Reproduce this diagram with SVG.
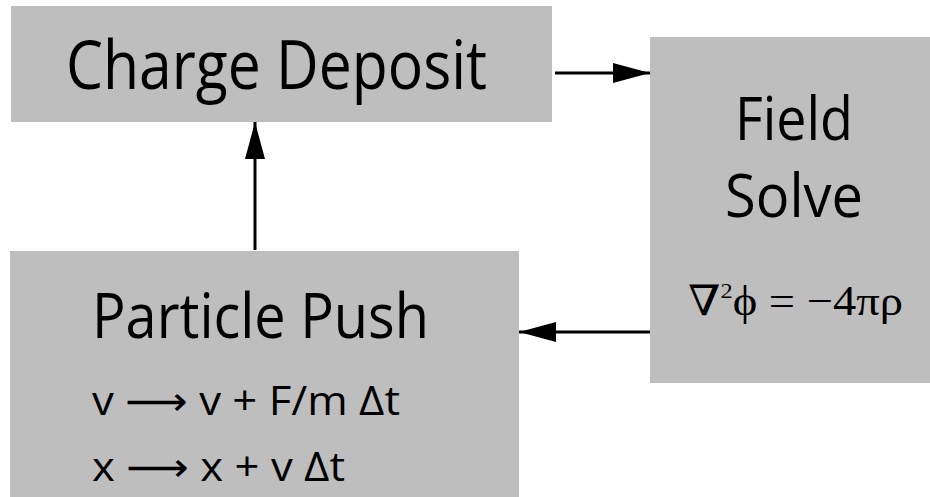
<svg xmlns="http://www.w3.org/2000/svg" width="930" height="497" viewBox="0 0 930 497">
<style>
.box{fill:#bebebe;}
.t{font-family:"Open Sans","Noto Sans",sans-serif;fill:#000;}
.m{font-family:"Liberation Serif","DejaVu Serif",serif;fill:#000;}
.a{font-family:"DejaVu Sans",sans-serif;}
.c{stroke:#000;stroke-width:3;fill:none;}
</style>
<defs>
<marker id="ah" markerUnits="userSpaceOnUse" markerWidth="38" markerHeight="22" refX="37" refY="11" orient="auto">
<path d="M0,1 L37,11 L0,21 Z" fill="#000"/>
</marker>
</defs>
<rect width="930" height="497" fill="#fff"/>
<g id="charge-deposit">
<rect class="box" x="11" y="6" width="541" height="116"/>
<text class="t" x="66" y="89" font-size="68" textLength="421" lengthAdjust="spacingAndGlyphs">Charge Deposit</text>
</g>
<g id="field-solve">
<rect class="box" x="650" y="37" width="280" height="346"/>
<text class="t" x="735" y="140" font-size="60" textLength="118" lengthAdjust="spacingAndGlyphs">Field</text>
<text class="t" x="725" y="217" font-size="60" textLength="138" lengthAdjust="spacingAndGlyphs">Solve</text>
<text class="m" x="688" y="315" font-size="42" textLength="215" lengthAdjust="spacingAndGlyphs">∇<tspan font-size="22" dy="-17">2</tspan><tspan dy="17">ϕ = −4πρ</tspan></text>
</g>
<g id="particle-push">
<rect class="box" x="10" y="251" width="509" height="246"/>
<text class="t" x="92" y="338" font-size="62" textLength="337" lengthAdjust="spacingAndGlyphs">Particle Push</text>
<text class="t" x="92" y="415" font-size="40" textLength="308" lengthAdjust="spacingAndGlyphs">v <tspan class="a">⟶</tspan> v + F/m Δt</text>
<text class="t" x="92" y="481" font-size="40" textLength="253" lengthAdjust="spacingAndGlyphs">x <tspan class="a">⟶</tspan> x + v Δt</text>
</g>
<g id="connectors">
<line class="c" x1="555" y1="73" x2="650" y2="73" marker-end="url(#ah)"/>
<line class="c" x1="650" y1="332" x2="519" y2="332" marker-end="url(#ah)"/>
<line class="c" x1="255" y1="250" x2="255" y2="122" marker-end="url(#ah)"/>
</g>
</svg>
